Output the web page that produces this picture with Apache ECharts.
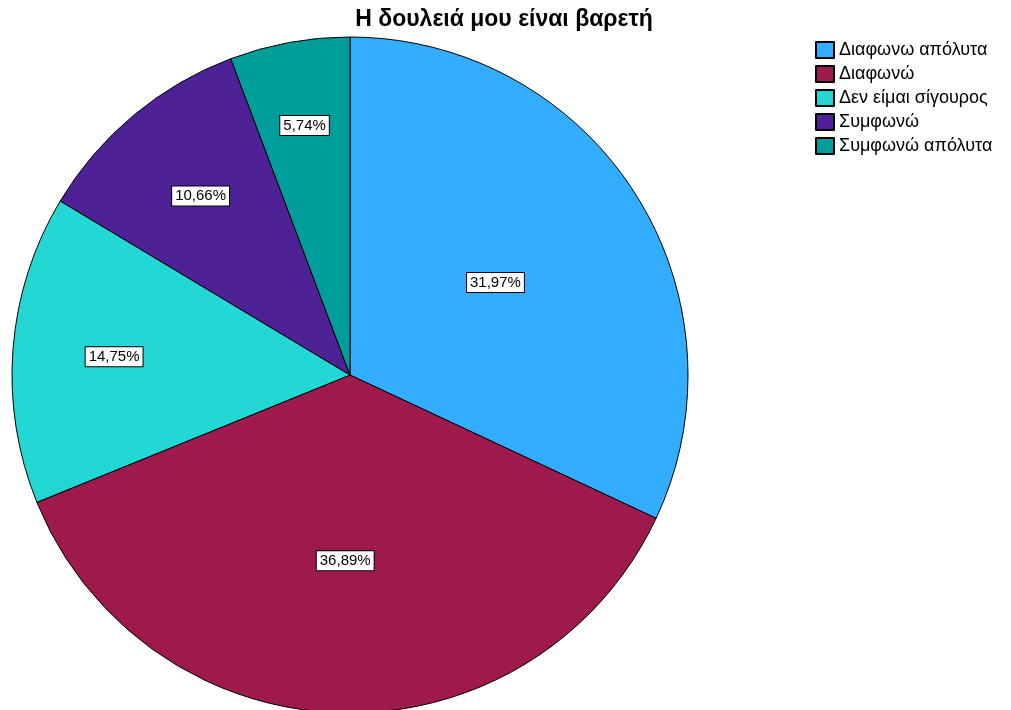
<!DOCTYPE html>
<html>
<head>
<meta charset="utf-8">
<script src="https://cdn.jsdelivr.net/npm/echarts@6/dist/echarts.min.js"></script>
<style>
  html, body { margin: 0; padding: 0; background: #ffffff; }
  #chart { width: 1011px; height: 710px; }
</style>
</head>
<body>
<div id="chart"></div>
<script>
// Responses to "Η δουλειά μου είναι βαρετή" (number of respondents per answer)
const categories = ['Διαφωνω απόλυτα', 'Διαφωνώ', 'Δεν είμαι σίγουρος', 'Συμφωνώ', 'Συμφωνώ απόλυτα'];
const counts = [39, 45, 18, 13, 7];
const colors = ['#33adff', '#9e1a4c', '#23d8d4', '#4e2196', '#009e9a'];
// how far out along the radius each percentage label sits
const labelRadiusFrac = [0.51, 0.55, 0.70, 0.69, 0.75];

const total = counts.reduce((a, b) => a + b, 0);
const pct = v => (v / total * 100).toFixed(2).replace('.', ',') + '%';

const center = [350, 375];
const radius = 338;

// mid angle of each slice (clockwise from 12 o'clock)
const midAngles = [];
let acc = 0;
counts.forEach(v => {
  const a = v / total * 360;
  midAngles.push(acc + a / 2);
  acc += a;
});

const FONT = 'Liberation Sans, Arial, sans-serif';

const chart = echarts.init(document.getElementById('chart'));
chart.setOption({
  backgroundColor: '#ffffff',
  animation: false,
  title: {
    text: 'Η δουλειά μου είναι βαρετή',
    left: 499,
    textAlign: 'center',
    top: 3,
    textStyle: { fontFamily: FONT, fontSize: 23, fontWeight: 'bold', color: '#000' }
  },
  legend: {
    orient: 'vertical',
    left: 810,
    top: 36,
    itemWidth: 18,
    itemHeight: 16,
    itemGap: 6,
    icon: 'rect',
    textStyle: { fontFamily: FONT, fontSize: 18, color: '#000' },
    data: categories
  },
  series: [{
    type: 'pie',
    center: center,
    radius: radius,
    startAngle: 90,
    clockwise: true,
    silent: true,
    itemStyle: { borderColor: '#000', borderWidth: 1 },
    label: {
      show: true,
      position: 'inside',
      formatter: p => pct(p.value),
      fontFamily: FONT,
      fontSize: 15,
      color: '#000',
      backgroundColor: '#fff',
      borderColor: '#000',
      borderWidth: 1,
      padding: [3, 3, 1, 3]
    },
    labelLine: { show: false },
    labelLayout: function (params) {
      const i = params.dataIndex;
      const ang = midAngles[i] * Math.PI / 180;
      const r = radius * labelRadiusFrac[i];
      return {
        x: center[0] + r * Math.sin(ang),
        y: center[1] - r * Math.cos(ang),
        align: 'center',
        verticalAlign: 'middle'
      };
    },
    data: categories.map((name, i) => ({ name: name, value: counts[i], itemStyle: { color: colors[i] } }))
  }]
});
</script>
</body>
</html>
